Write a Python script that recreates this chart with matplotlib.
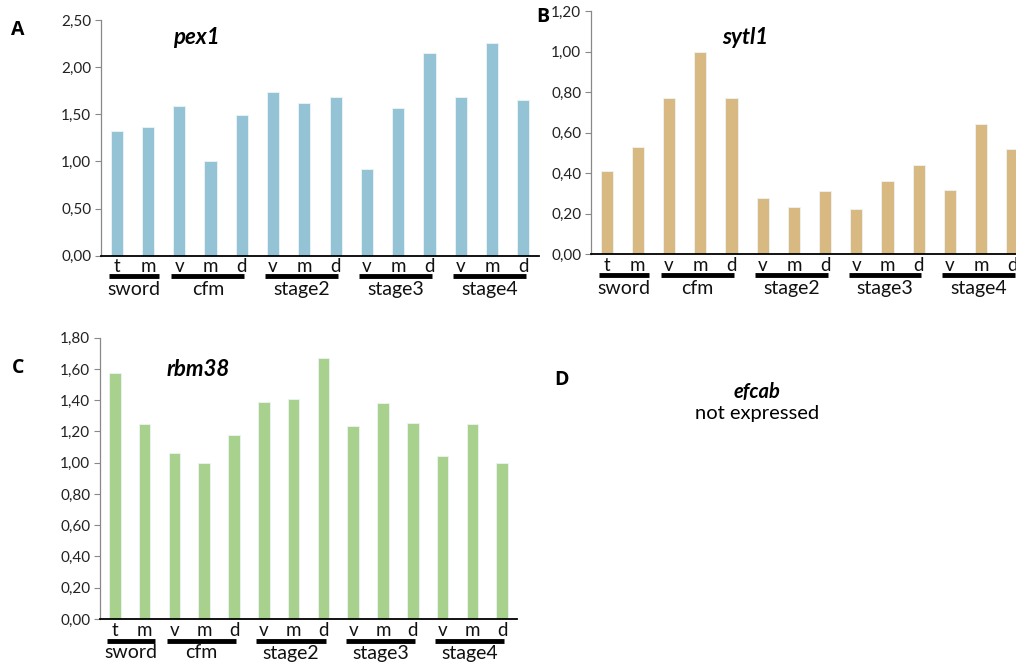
import matplotlib
matplotlib.use("Agg")
import matplotlib.pyplot as plt
import matplotlib.transforms as mtrans
import numpy as np
from matplotlib.ticker import FuncFormatter

plt.rcParams['font.family'] = ['Lato', 'DejaVu Sans']

# ---- data ----
groups = ["sword", "cfm", "stage2", "stage3", "stage4"]
group_cats = [["t", "m"], ["v", "m", "d"], ["v", "m", "d"], ["v", "m", "d"], ["v", "m", "d"]]

pex1 = [1.32, 1.37, 1.59, 1.00, 1.49, 1.74, 1.62, 1.68, 0.92, 1.57, 2.15, 1.68, 2.26, 1.65]
sytl1 = [0.41, 0.53, 0.77, 1.00, 0.77, 0.28, 0.235, 0.31, 0.225, 0.36, 0.44, 0.316, 0.645, 0.52]
rbm38 = [1.575, 1.245, 1.065, 1.00, 1.18, 1.39, 1.405, 1.67, 1.235, 1.38, 1.255, 1.045, 1.245, 1.00]

pex1_ticks = [0, 0.5, 1.0, 1.5, 2.0, 2.5]
sytl1_ticks = [0, 0.2, 0.4, 0.6, 0.8, 1.0, 1.2]
rbm38_ticks = [0, 0.2, 0.4, 0.6, 0.8, 1.0, 1.2, 1.4, 1.6, 1.8]

W, H = 1016, 666
fig = plt.figure(figsize=(W / 100, H / 100), dpi=100)


def px_axes(left, top, right, bottom):
    return fig.add_axes([left / W, 1 - bottom / H, (right - left) / W, (bottom - top) / H])


fmt = FuncFormatter(lambda v, p: f"{v:.2f}".replace(".", ","))


def panel(ax, values, ticks, color, title, tx, ty, off):
    cats = [c for g in group_cats for c in g]
    x = np.arange(len(cats))
    ax.bar(x, values, width=0.39, color=color, edgecolor="#eef4f6", linewidth=0.6, zorder=2)
    ax.set_xlim(-0.5, len(cats) - 0.5)
    ax.set_ylim(ticks[0], ticks[-1])
    ax.set_yticks(ticks)
    ax.yaxis.set_major_formatter(fmt)
    ax.set_xticks(x)
    ax.set_xticklabels([""] * len(cats))
    ax.tick_params(axis="x", length=0)
    ax.tick_params(axis="y", length=4, color="#888888", labelsize=11, pad=3, labelcolor="#222222")
    for s in ["top", "right"]:
        ax.spines[s].set_visible(False)
    ax.spines["left"].set_color("#888888")
    ax.spines["left"].set_linewidth(0.9)
    ax.spines["bottom"].set_color("black")
    ax.spines["bottom"].set_linewidth(1.3)
    tr = ax.get_xaxis_transform()
    t_cat = mtrans.offset_copy(tr, fig=fig, y=-off[0], units="dots")
    t_line = mtrans.offset_copy(tr, fig=fig, y=-off[1], units="dots")
    t_grp = mtrans.offset_copy(tr, fig=fig, y=-off[2], units="dots")
    for xi, c in zip(x, cats):
        ax.text(xi, 0, c, transform=t_cat, ha="center", va="center", fontsize=13.5,
                color="#111111")
    i = 0
    for gi, (g, gc) in enumerate(zip(groups, group_cats)):
        first, last = i, i + len(gc) - 1
        start = first - 0.25
        end = last + (0.35 if gi == 0 else 0.08)
        ax.plot([start, end], [0, 0], transform=t_line, color="black", lw=3.5,
                clip_on=False, solid_capstyle="butt")
        ax.text((start + end) / 2, 0, g, transform=t_grp, ha="center", va="center",
                fontsize=14, color="#111111")
        i += len(gc)
    ax.text(tx, ty, title, transform=ax.transAxes, fontsize=16, fontweight="bold",
            style="italic", ha="center", va="center")


axA = px_axes(101, 20, 539, 255.7)
panel(axA, pex1, pex1_ticks, "#93c3d4", "pex1", (196 - 101) / 438, 1 - (37 - 20) / 235.7,
      (11, 20, 34))

axB = px_axes(591, 11, 1028, 254.3)
panel(axB, sytl1, sytl1_ticks, "#d9b982", "sytl1", (745 - 591) / 437, 1 - (37 - 11) / 243.3,
      (11, 21, 34))

axC = px_axes(100, 337.7, 517, 619)
panel(axC, rbm38, rbm38_ticks, "#a9d18e", "rbm38", (198 - 100) / 417, 1 - (369 - 337.7) / 281.3,
      (11, 21.5, 34))

# panel letters
for lab, (lx, ly) in {"A": (18, 30), "B": (543, 17), "C": (18, 368), "D": (561, 380)}.items():
    fig.text(lx / W, 1 - ly / H, lab, fontsize=14, fontweight="bold", ha="center", va="center",
             family=["Open Sans", "DejaVu Sans"])

fig.text(757 / W, 1 - 392 / H, "efcab", fontsize=14.5, fontweight="bold", style="italic",
         ha="center", va="center")
fig.text(757 / W, 1 - 414 / H, "not expressed", fontsize=14.5, ha="center", va="center")

fig.savefig("out.png", dpi=100)
